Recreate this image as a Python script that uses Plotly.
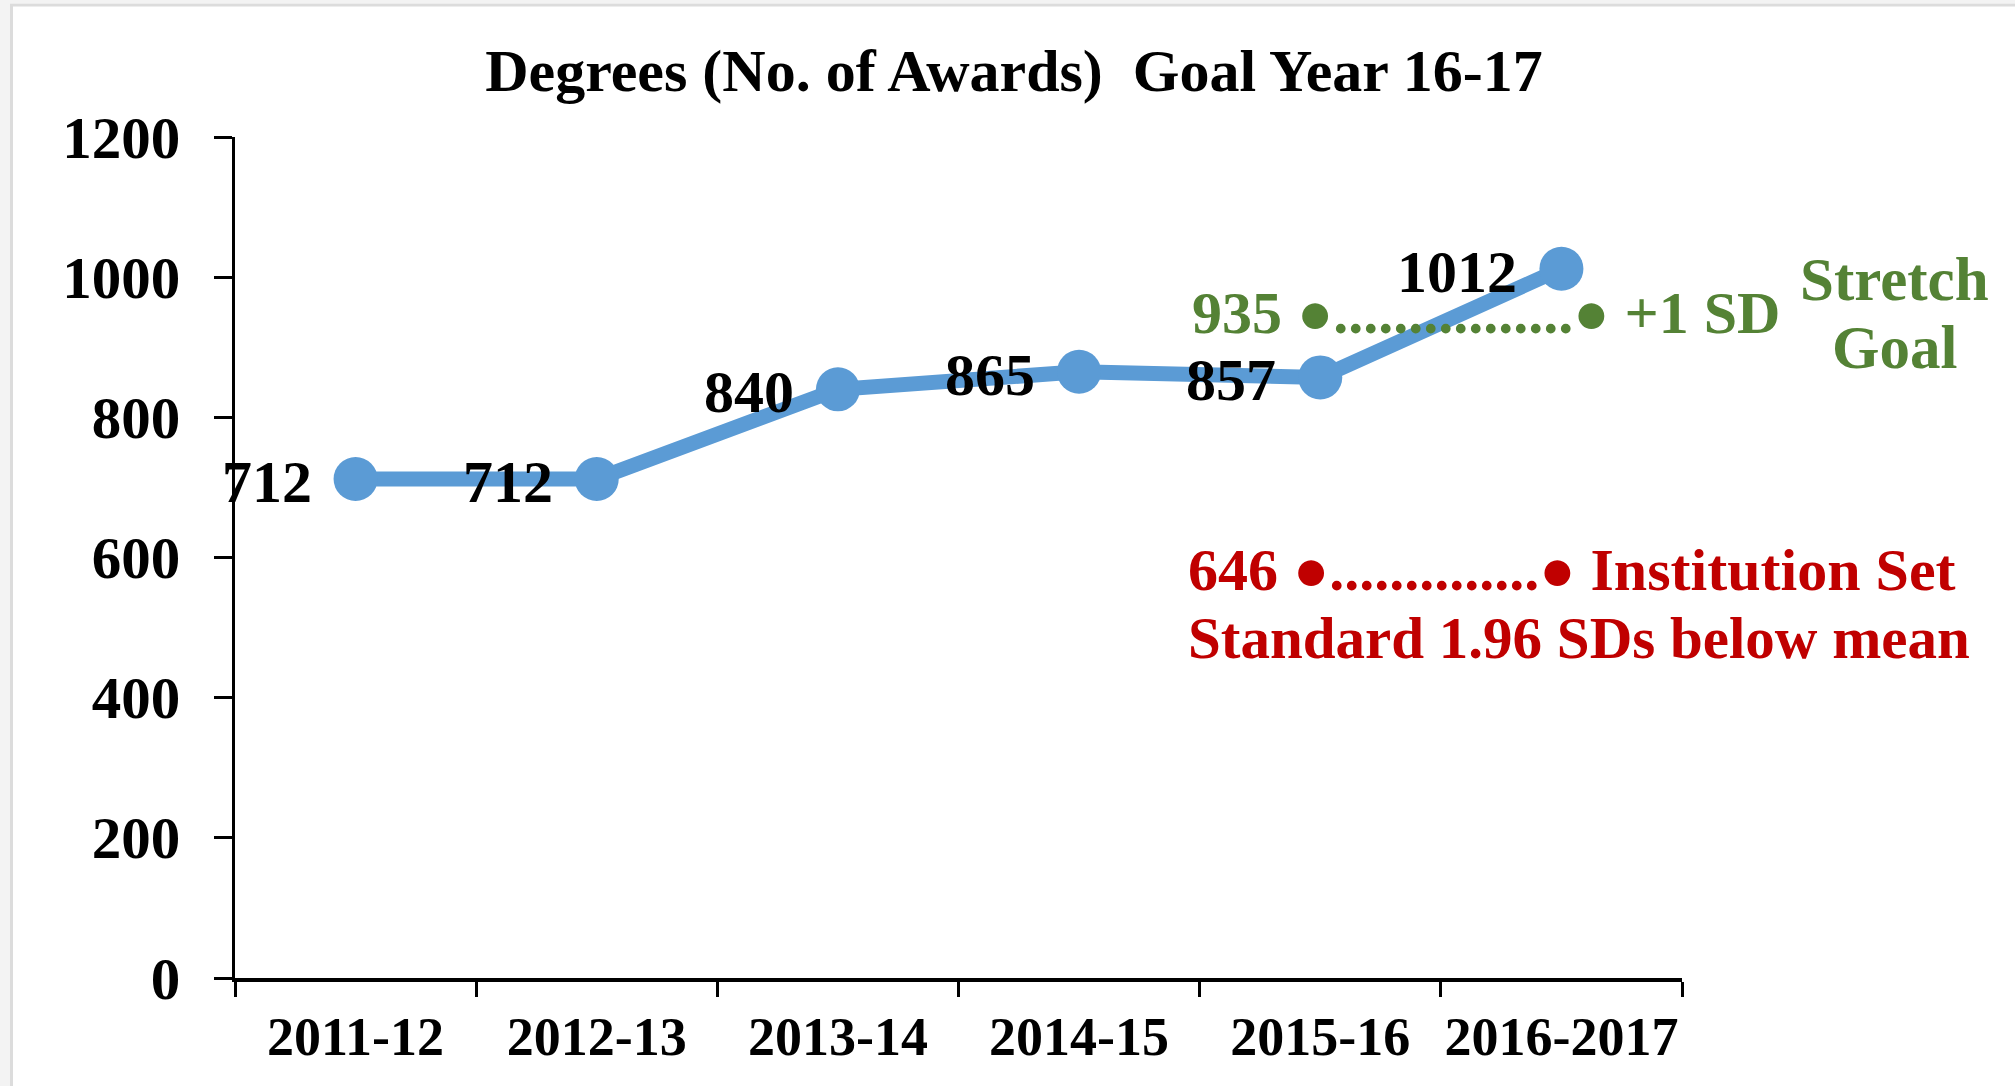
import plotly.graph_objects as go

# ---- data ----
years = ["2011-12", "2012-13", "2013-14", "2014-15", "2015-16", "2016-2017"]
awards = [712, 712, 840, 865, 857, 1012]
stretch_goal = 935          # +1 SD
institution_standard = 646  # 1.96 SDs below mean
y_ticks = [0, 200, 400, 600, 800, 1000, 1200]

title_text = "Degrees (No. of Awards)&nbsp;&nbsp;Goal Year 16-17"

# ---- styling ----
W, H = 2015, 1086
PL, PR, PT, PB = 235, 1682, 137, 978
BLUE = "#5B9BD5"
GREEN = "#548235"
RED = "#C00000"
FONT = "Liberation Serif, Times New Roman, serif"


def px(x):
    return (x - PL) / (PR - PL)


def py(y):
    return (PB - y) / (PB - PT)


fig = go.Figure()
fig.add_trace(go.Scatter(
    x=years, y=awards, mode="lines+markers",
    line=dict(color=BLUE, width=15),
    marker=dict(color=BLUE, size=44),
    hoverinfo="skip", showlegend=False,
))

annotations = []
# data labels (left of each point)
for yr, v in zip(years, awards):
    annotations.append(dict(
        x=yr, y=v, xref="x", yref="y", text=f"{v}", showarrow=False,
        xanchor="right", yanchor="middle", xshift=-42, yshift=-3,
        font=dict(family=FONT, size=60, color="black", weight="bold"),
    ))

bullet = "<span style='font-size:60px'>●</span>"

# green stretch-goal text box
annotations.append(dict(
    x=px(1190), y=py(313), xref="paper", yref="paper", showarrow=False,
    xanchor="left", yanchor="middle",
    text=f"{stretch_goal}&nbsp;{bullet}{'.' * 16}{bullet}&nbsp;+1 SD",
    font=dict(family=FONT, size=60, color=GREEN, weight="bold"),
))
annotations.append(dict(
    x=px(1895), y=py(279), xref="paper", yref="paper", showarrow=False,
    xanchor="center", yanchor="middle", text="Stretch",
    font=dict(family=FONT, size=61, color=GREEN, weight="bold"),
))
annotations.append(dict(
    x=px(1895), y=py(347), xref="paper", yref="paper", showarrow=False,
    xanchor="center", yanchor="middle", text="Goal",
    font=dict(family=FONT, size=61, color=GREEN, weight="bold"),
))

# red institution-set standard text box
annotations.append(dict(
    x=px(1186), y=py(570), xref="paper", yref="paper", showarrow=False,
    xanchor="left", yanchor="middle",
    text=f"{institution_standard}&nbsp;{bullet}{'.' * 14}{bullet}&nbsp;Institution Set",
    font=dict(family=FONT, size=60, color=RED, weight="bold"),
))
annotations.append(dict(
    x=px(1186), y=py(638), xref="paper", yref="paper", showarrow=False,
    xanchor="left", yanchor="middle",
    text="Standard 1.96 SDs below mean",
    font=dict(family=FONT, size=59, color=RED, weight="bold"),
))

# outer frame (light gray strip + border like the screenshot)
shapes = [
    dict(type="rect", xref="paper", yref="paper", x0=px(0), x1=px(10), y0=py(H), y1=py(0),
         fillcolor="#f3f3f3", line=dict(width=0), layer="below"),
    dict(type="rect", xref="paper", yref="paper", x0=px(0), x1=px(W), y0=py(3), y1=py(0),
         fillcolor="#f3f3f3", line=dict(width=0), layer="below"),
    dict(type="line", xref="paper", yref="paper", x0=px(11.5), x1=px(11.5), y0=py(H), y1=py(4),
         line=dict(color="#dcdcdc", width=3), layer="below"),
    dict(type="line", xref="paper", yref="paper", x0=px(10), x1=px(W), y0=py(5), y1=py(5),
         line=dict(color="#dcdcdc", width=3), layer="below"),
]

fig.update_layout(
    width=W, height=H,
    margin=dict(l=PL, r=W - PR, t=PT, b=H - PB, pad=0, autoexpand=False),
    paper_bgcolor="white", plot_bgcolor="white",
    font=dict(family=FONT, color="black"),
    title=dict(text=title_text, x=1014 / W, xref="container", xanchor="center",
               y=1 - 70 / H, yref="container", yanchor="middle",
               font=dict(family=FONT, size=60, color="black", weight="bold")),
    xaxis=dict(
        type="category", categoryorder="array", categoryarray=years,
        tickson="boundaries", ticks="outside", ticklen=15, tickwidth=3, tickcolor="black",
        showline=True, linecolor="black", linewidth=4, showgrid=False, zeroline=False,
        tickfont=dict(family=FONT, size=54, color="black", weight="bold"),
        tickangle=0, automargin=False,
        ticklabelstandoff=8, range=[-0.5, 5.5],
    ),
    yaxis=dict(
        range=[0, 1200], tickvals=y_ticks, ticks="outside", ticklen=18, tickwidth=3,
        tickcolor="black", showline=True, linecolor="black", linewidth=3,
        showgrid=False, zeroline=False, automargin=False,
        tickfont=dict(family=FONT, size=59, color="black", weight="bold"),
        ticklabelstandoff=22,
    ),
    annotations=annotations,
    shapes=shapes,
)

fig.write_html("out.html", config={"displayModeBar": False},
               post_script="document.body.style.margin='0';")
